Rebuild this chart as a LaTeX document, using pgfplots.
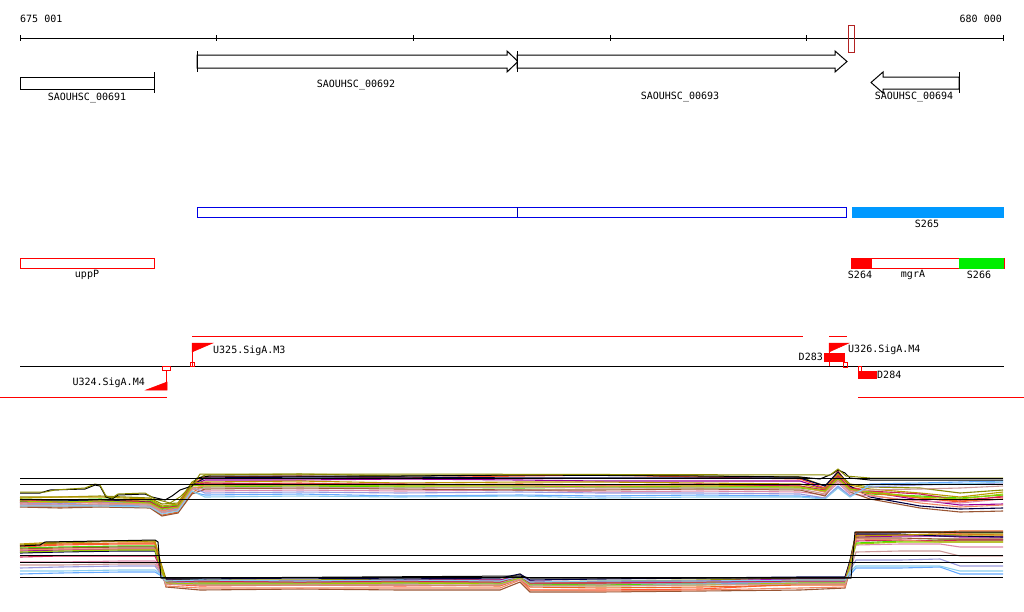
\documentclass[border=0pt]{standalone}
\usepackage{pgfplots}
\pgfplotsset{compat=1.18}
\usepackage{pgfplotstable}
\usepackage{fontspec}
\setmainfont{DejaVu Sans Mono}

\definecolor{c1}{HTML}{8B8B00}
\definecolor{c2}{HTML}{FF5533}
\definecolor{c3}{HTML}{990099}
\definecolor{c4}{HTML}{66AAFF}
\definecolor{c5}{HTML}{44DD00}
\definecolor{c6}{HTML}{000044}
\definecolor{c7}{HTML}{DD88AA}
\definecolor{c8}{HTML}{EE6622}
\definecolor{c9}{HTML}{995533}
\definecolor{c10}{HTML}{9999DD}
\definecolor{c11}{HTML}{BB9900}
\definecolor{c12}{HTML}{CC2255}
\definecolor{c13}{HTML}{EE8866}
\definecolor{c14}{HTML}{99CC00}
\definecolor{c15}{HTML}{CC9999}
\definecolor{c16}{HTML}{88CCEE}
\definecolor{marker}{HTML}{B22222}
\definecolor{boxblue}{HTML}{0000E6}
\definecolor{s265}{HTML}{0099FF}
\definecolor{s266}{HTML}{00EE00}

% expression profiles, forward strand (screen y, top = 0)
\pgfplotstableread{
x    u1  u2  u3  u4  u5  u6  u7  u8  u9  u10 u11 u12 u13 u14 u15 u16
20   497 500 502 505 499 501 504 506 507 503 498 500 503 501 505 506
60   497 501 503 506 500 501 505 507 508 504 497 502 502 502 505 506
100  496 500 502 505 499 500 504 506 507 502 497 501 503 501 504 506
150  498 501 503 506 500 502 505 507 508 503 499 502 504 503 505 507
162  504 508 510 512 507 509 513 515 516 510 506 508 511 509 512 514
178  503 506 508 509 505 507 510 512 513 507 504 506 508 507 510 511
192  482 484 486 492 488 485 489 493 494 487 483 485 488 486 490 491
205  475 477 480 495 487 478 491 484 489 493 482 483 486 485 488 497
300  474 476 480 494 486 477 490 483 488 492 481 484 485 485 487 496
400  476 478 479 496 487 477 491 485 489 493 483 484 485 486 488 497
520  475 476 480 495 488 478 490 484 490 492 482 485 486 486 487 496
600  475 475 481 496 487 478 492 485 490 493 482 485 486 487 488 498
700  476 477 481 495 488 478 491 485 489 493 483 484 486 486 488 497
800  477 479 481 496 488 478 492 486 490 494 484 486 487 487 489 497
825  486 488 489 498 491 486 495 492 496 498 489 490 492 491 494 499
838  473 471 477 486 479 472 483 475 478 487 474 476 480 478 481 488
850  484 487 489 496 490 486 494 489 492 496 485 488 490 489 492 497
870  487 491 492 484 494 497 496 493 499 487 489 491 495 492 490 485
920  488 498 500 483 496 506 501 498 508 485 493 494 503 497 489 484
960  493 502 505 482 498 509 503 501 512 484 497 500 507 499 488 484
1003 490 496 504 481 495 508 499 499 511 483 492 497 505 494 486 482
}\fwdstrand

% expression profiles, reverse strand
\pgfplotstableread{
x    u1  u2  u3  u4  u5  u6  u7  u8  u9  u10 u11 u12 u13 u14 u15 u16
20   545 547 551 574 548 553 562 546 549 568 544 557 550 552 565 571
60   543 545 550 573 547 552 562 544 548 567 542 556 549 551 565 571
120  541 544 549 572 546 551 561 543 547 566 541 556 549 550 564 570
155  542 544 549 572 546 551 561 543 547 566 541 556 549 550 564 570
160  560 565 566 575 563 567 570 562 564 573 561 568 565 566 571 574
166  579 584 580 583 581 579 582 583 587 582 581 582 586 583 584 581
200  580 586 581 584 583 579 582 585 590 583 582 581 588 584 585 580
300  580 585 581 584 583 578 583 585 589 582 582 582 588 584 585 581
400  579 586 580 584 582 579 582 585 590 583 582 581 588 583 585 580
500  580 585 580 583 583 578 582 586 590 583 582 582 588 584 585 581
520  574 578 576 578 577 574 577 579 582 577 576 576 580 578 579 576
530  582 590 581 585 584 580 583 587 592 584 583 583 590 585 586 582
600  581 590 582 584 585 579 584 588 592 583 583 583 591 586 586 581
700  580 589 581 584 583 578 582 587 591 583 582 582 590 585 585 581
800  578 584 579 583 581 577 581 585 590 582 580 581 588 583 584 580
845  578 584 579 582 581 577 581 585 588 582 580 581 587 583 584 580
850  560 565 562 575 563 561 566 566 570 570 563 564 568 565 570 572
856  533 535 537 568 543 534 545 532 538 560 536 541 539 544 552 566
900  532 535 536 568 541 534 544 532 538 560 535 540 540 542 551 566
940  532 534 536 567 540 536 544 532 539 559 534 541 542 542 551 566
960  533 534 537 574 540 536 547 531 539 566 535 540 542 542 556 571
1003 533 535 537 574 540 537 547 531 539 566 535 540 542 542 556 571
}\revstrand

\newcommand{\lbl}{\fontsize{10}{12}\selectfont}

\begin{document}
\begin{tikzpicture}
\begin{axis}[
    x=1pt, y=1pt,
    xmin=0, xmax=1024, ymin=0, ymax=611,
    y dir=reverse,
    hide axis, clip=false,
    unbounded coords=jump,
    every axis plot/.append style={mark=none, line width=1pt},
]

% ruler
\addplot[black] coordinates {(20,38) (1003,38)};
\addplot[black] coordinates {
    (20,35) (20,41) (nan,nan) (216,35) (216,41) (nan,nan)
    (413,35) (413,41) (nan,nan) (610,35) (610,41) (nan,nan)
    (806,35) (806,41) (nan,nan) (1003,35) (1003,41)};
\addplot[marker] coordinates {(848,25) (854,25) (854,52) (848,52)} -- cycle;
\node[font=\lbl, anchor=west, inner sep=0] at (axis cs:20,19) {675 001};
\node[font=\lbl, anchor=east, inner sep=0] at (axis cs:1002,19) {680 000};

% genes
\addplot[black, fill=white] coordinates {(20,77) (154,77) (154,89) (20,89)} -- cycle;
\addplot[black] coordinates {(154,72) (154,93)};
\addplot[black, fill=white] coordinates {
    (197,55) (507,55) (507,51) (518,61.5) (507,72) (507,68) (197,68)} -- cycle;
\addplot[black] coordinates {(197,51) (197,72)};
\addplot[black, fill=white] coordinates {
    (517,55) (835,55) (835,51) (847,61.5) (835,72) (835,68) (517,68)} -- cycle;
\addplot[black] coordinates {(517,51) (517,72)};
\addplot[black, fill=white] coordinates {
    (959,77) (883,77) (883,72) (871,82.5) (883,93) (883,89) (959,89)} -- cycle;
\addplot[black] coordinates {(959,72) (959,93)};
\node[font=\lbl] at (axis cs:87,98) {SAOUHSC\_00691};
\node[font=\lbl] at (axis cs:356,85) {SAOUHSC\_00692};
\node[font=\lbl] at (axis cs:680,97) {SAOUHSC\_00693};
\node[font=\lbl] at (axis cs:914,97) {SAOUHSC\_00694};

% transcribed segments
\addplot[boxblue, fill=white] coordinates {(197,207) (846,207) (846,217) (197,217)} -- cycle;
\addplot[blue!70!black] coordinates {(517,207) (517,217)};
\addplot[draw=none, fill=s265] coordinates {(852,207) (1004,207) (1004,218) (852,218)} -- cycle;
\node[font=\lbl] at (axis cs:927,224) {S265};

\addplot[red, fill=white] coordinates {(20,258) (154,258) (154,268) (20,268)} -- cycle;
\node[font=\lbl] at (axis cs:87,275) {uppP};
\addplot[red, fill=white] coordinates {(851,258) (1004,258) (1004,268) (851,268)} -- cycle;
\addplot[draw=none, fill=red] coordinates {(851,258) (872,258) (872,268) (851,268)} -- cycle;
\addplot[draw=none, fill=s266] coordinates {(959,258) (1004,258) (1004,268.5) (959,268.5)} -- cycle;
\node[font=\lbl] at (axis cs:860,275) {S264};
\node[font=\lbl] at (axis cs:913,275) {mgrA};
\node[font=\lbl] at (axis cs:979,275) {S266};

% promoters and terminators
\addplot[red] coordinates {(192,336) (803,336) (nan,nan) (829,336) (847,336)};
\addplot[red] coordinates {(0,397) (167,397) (nan,nan) (858,397) (1024,397)};
\addplot[black] coordinates {(20,366) (1004,366)};

\addplot[red] coordinates {(192,343) (192,366)};
\addplot[red, fill=red, line width=0.5pt] coordinates {(192,343) (213,343) (192,352)} -- cycle;
\addplot[red, line width=0.8pt] coordinates {(190.5,362) (194,362) (194,366) (190.5,366)} -- cycle;
\node[font=\lbl, anchor=west, inner sep=0] at (axis cs:213,351) {U325.SigA.M3};

\addplot[red] coordinates {(166,370) (166,390)};
\addplot[red, fill=red, line width=0.5pt] coordinates {(146,390) (167,390) (167,382)} -- cycle;
\addplot[red, line width=0.8pt] coordinates {(162,366) (170,366) (170,370) (162,370)} -- cycle;
\node[font=\lbl, anchor=east, inner sep=0] at (axis cs:145,383) {U324.SigA.M4};

\addplot[red] coordinates {(829,343) (829,366)};
\addplot[red, fill=red, line width=0.5pt] coordinates {(829,343) (849,343) (829,352)} -- cycle;
\node[font=\lbl, anchor=west, inner sep=0] at (axis cs:848,350) {U326.SigA.M4};
\addplot[draw=none, fill=red] coordinates {(824,353) (845,353) (845,362) (824,362)} -- cycle;
\addplot[red, line width=0.8pt] coordinates {(843.5,362) (847,362) (847,367) (843.5,367)} -- cycle;
\node[font=\lbl, anchor=east, inner sep=0] at (axis cs:823,357) {D283};
\addplot[draw=none, fill=red] coordinates {(858,371) (877,371) (877,379) (858,379)} -- cycle;
\addplot[red, line width=0.8pt] coordinates {(858.5,366) (861.5,366) (861.5,371) (858.5,371)} -- cycle;
\node[font=\lbl, anchor=west, inner sep=0] at (axis cs:877,375) {D284};

% expression profiles
\pgfplotsinvokeforeach{1,...,16}{
    \addplot[c#1, line width=1.1pt] table[x=x, y=u#1] {\fwdstrand};
    \addplot[c#1, line width=1.1pt] table[x=x, y=u#1] {\revstrand};
}
\addplot[black] coordinates {
    (20,493) (40,493) (50,490) (85,489) (95,485) (100,486) (106,497) (112,499)
    (118,495) (145,494) (152,497) (165,500) (172,496) (180,490) (192,486)
    (197,478) (210,476) (400,476) (520,475) (700,476) (800,477) (820,479)
    (832,474) (838,470) (845,473) (850,478) (870,480) (1003,480)};
\addplot[c1] coordinates {
    (20,492) (45,492) (55,490) (85,488) (95,484) (100,485) (106,496) (112,498)
    (118,494) (145,493) (155,499) (170,503) (180,497) (195,482) (200,474)
    (400,474) (830,475) (838,469) (846,476) (870,478) (1003,478)};
\addplot[black] coordinates {
    (20,546) (40,545) (45,542) (155,540) (158,542) (161,578) (200,578)
    (520,576) (530,578) (845,578) (851,578) (855,532) (1003,532)};

% reference levels
\addplot[black] coordinates {(20,478) (1003,478) (nan,nan) (20,484) (1003,484) (nan,nan) (20,499) (1003,499)};
\addplot[black] coordinates {(20,555) (1003,555) (nan,nan) (20,562) (1003,562) (nan,nan) (20,577) (1003,577)};

\end{axis}
\pgfresetboundingbox
\path (current axis.south west) rectangle (current axis.north east);
\end{tikzpicture}
\end{document}
